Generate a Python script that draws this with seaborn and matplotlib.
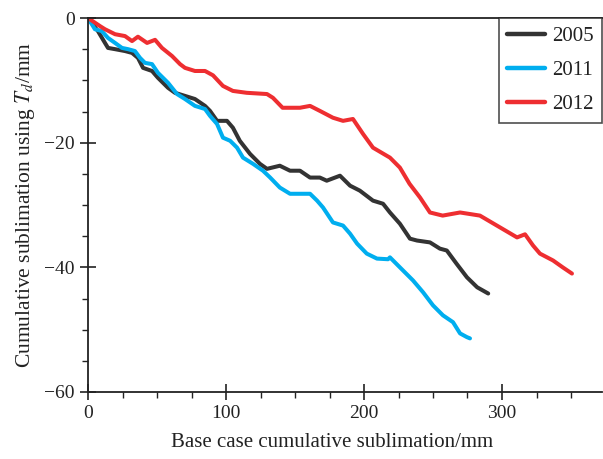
import numpy as np
import pandas as pd
import matplotlib
matplotlib.use("Agg")
import matplotlib.pyplot as plt
import seaborn as sns
from matplotlib.ticker import MultipleLocator

# ---- data ----
x2005 = [0, 7.2, 12.3, 14.5, 19.6, 26.8, 31.9, 36.2, 39.9, 46.4, 50.7, 58, 63, 70.3, 77.5, 84.8,
         88.4, 93.5, 100.7, 105, 110, 117.4, 124.6, 129.7, 139, 146.4, 153.6, 160.9, 168, 173,
         182.6, 189.9, 197, 206.5, 213.8, 218.8, 226, 233.3, 238.4, 247.8, 255, 260, 267, 274.6, 282, 290]
y2005 = [0, -2.1, -4.0, -4.8, -5.0, -5.3, -5.6, -6.4, -8.0, -8.5, -9.6, -11.2, -12.0, -12.5, -13.0, -14.1,
         -14.9, -16.5, -16.5, -17.6, -19.7, -21.8, -23.4, -24.2, -23.7, -24.5, -24.5, -25.6, -25.6, -26.1,
         -25.3, -26.9, -27.7, -29.3, -29.8, -31.2, -33.0, -35.4, -35.7, -36.0, -37.0, -37.3, -39.4, -41.6, -43.2, -44.2]

x2011 = [0, 5, 10, 14.5, 19.6, 24.6, 29, 34, 37.7, 41.3, 46.4, 50.7, 58, 64.5, 70.3, 77.5, 84.8,
         88.4, 93.5, 97.8, 103, 108, 112.3, 119.6, 126.8, 132, 139, 146.4, 153.6, 160.9, 166,
         170.3, 177.5, 184.8, 189.9, 195, 202, 209.4, 217.4, 218.8, 226, 235.5, 242.8, 250, 257.2,
         264.5, 269.6, 274.6, 276.8]
y2011 = [0, -1.8, -2.1, -3.2, -4.0, -4.8, -5.0, -5.3, -6.4, -7.2, -7.4, -8.8, -10.4, -12.2, -13.0, -14.1, -14.6,
         -15.7, -17.0, -19.2, -19.7, -20.8, -22.4, -23.4, -24.5, -25.6, -27.2, -28.2, -28.2, -28.2, -29.3,
         -30.4, -32.8, -33.3, -34.6, -36.2, -37.8, -38.6, -38.7, -38.4, -40.0, -42.1, -44.0, -46.1, -47.7,
         -48.8, -50.6, -51.2, -51.4]

x2012 = [0, 8.7, 12.3, 19.6, 26.8, 31.9, 36.2, 42.8, 48.6, 53.6, 60.9, 66.7, 70.3, 77.5, 84.8,
         90.6, 97.8, 105, 115, 129.7, 134, 141, 153.6, 160.9, 168, 177.5, 184.8, 192, 199.3,
         206.5, 218.8, 226, 233, 240.6, 247.8, 257, 269.6, 284, 298.6, 310.9, 316.7, 322.5,
         327.5, 337, 344, 350.7]
y2012 = [0, -1.3, -1.8, -2.6, -2.9, -3.7, -3.0, -4.0, -3.5, -4.8, -6.1, -7.4, -8.0, -8.5, -8.5,
         -9.2, -10.9, -11.7, -12.0, -12.2, -12.8, -14.4, -14.4, -14.1, -14.9, -16.0, -16.5, -16.2, -18.6,
         -20.8, -22.4, -24.0, -26.6, -28.8, -31.2, -31.7, -31.2, -31.7, -33.6, -35.2, -34.7, -36.5,
         -37.8, -38.9, -40.0, -41.0]

years = ["2005", "2011", "2012"]
colors = ["#333333", "#00AEEF", "#EE2E31"]

df = pd.concat([
    pd.DataFrame({"x": x2005, "y": y2005, "year": "2005"}),
    pd.DataFrame({"x": x2011, "y": y2011, "year": "2011"}),
    pd.DataFrame({"x": x2012, "y": y2012, "year": "2012"}),
], ignore_index=True)

sns.set_theme(style="ticks")
plt.rcParams["font.family"] = ["Liberation Serif", "DejaVu Serif"]
plt.rcParams["mathtext.fontset"] = "stix"

XMAX = 372.5
fig = plt.figure(figsize=(6.03, 4.59), dpi=100)
ax = fig.add_axes([88 / 603, 1 - 392 / 459, XMAX * 1.38 / 603, (392 - 18) / 459])

sns.lineplot(data=df, x="x", y="y", hue="year", hue_order=years,
             palette=dict(zip(years, colors)), sort=False, estimator=None,
             linewidth=2.9, ax=ax)

ax.set_xlim(0, XMAX)
ax.set_ylim(-60, 0)
ax.xaxis.set_major_locator(MultipleLocator(100))
ax.xaxis.set_minor_locator(MultipleLocator(25))
ax.yaxis.set_major_locator(MultipleLocator(20))
ax.yaxis.set_minor_locator(MultipleLocator(5))

txt = "#222222"
ax.tick_params(which="major", direction="inout", length=11, width=1.2, colors="#222222",
               labelsize=14, labelcolor=txt, pad=4, top=False, right=False)
ax.tick_params(which="minor", direction="out", length=4, width=1.0, colors="#222222",
               top=False, right=False)
for s in ax.spines.values():
    s.set_linewidth(1.3)
    s.set_color("#222222")
ax.spines["top"].set_visible(True)
ax.spines["right"].set_visible(False)

ax.set_xlabel("Base case cumulative sublimation/mm", fontsize=15, color=txt)
ax.xaxis.set_label_coords(0.471 * 375 / XMAX, -0.11)
ax.set_ylabel(r"Cumulative sublimation using $T_d$/mm", fontsize=15.5, color=txt, labelpad=5)

leg = ax.legend(loc="upper right", bbox_to_anchor=(1.0, 1.0), fontsize=15,
                frameon=True, fancybox=False, edgecolor="#222222", handlelength=1.8,
                borderpad=0.4, labelspacing=0.7, handletextpad=0.35, borderaxespad=0)
leg.get_frame().set_linewidth(1.2)
for line in leg.get_lines():
    line.set_linewidth(3.2)
for t in leg.get_texts():
    t.set_color(txt)

fig.savefig("out.png", dpi=100)
